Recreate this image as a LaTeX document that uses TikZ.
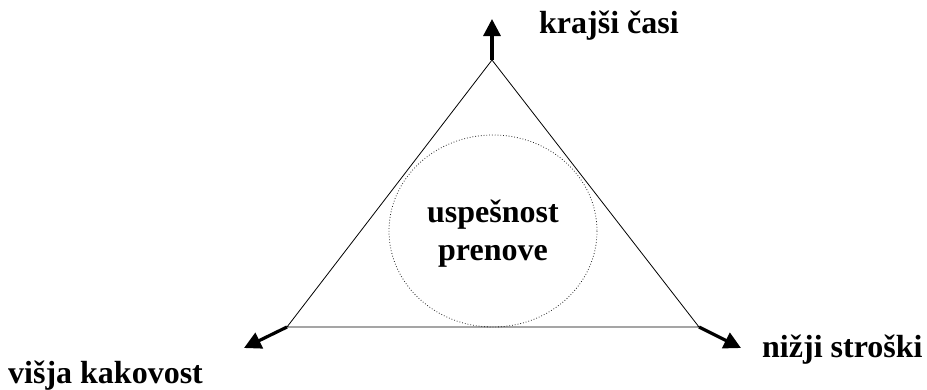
\documentclass[tikz,border=0pt]{standalone}
\usepackage{fontspec}
\setmainfont{Liberation Serif}
\usetikzlibrary{arrows.meta}
\tikzset{
  edge/.style={line width=0.8pt, black},
  goal/.style={line width=3.2pt, -{Triangle[length=17pt,width=17pt]}},
  lbl/.style={font=\bfseries\fontsize{32}{38}\selectfont, inner sep=0pt, anchor=base west},
  ring/.style={draw=black!85, line width=0.8pt, dotted}
}
\begin{document}
\begin{tikzpicture}[x=1pt,y=-1pt]
\useasboundingbox (0,0) rectangle (927,389);
\coordinate (top) at (492,60);
\coordinate (left) at (287,327);
\coordinate (right) at (699,327);
\coordinate (ttip) at (492,19);
\coordinate (ltip) at (244,348);
\coordinate (rtip) at (741,348);
\draw[edge] (top) -- (right) -- (left) -- cycle;
\draw[ring] (493,231) ellipse [x radius=104, y radius=96];
\node[lbl, anchor=base, align=center] (center) at (493,260) {uspešnost\\prenove};
\draw[goal] (top) -- (ttip);
\draw[goal] (left) -- (ltip);
\draw[goal] (right) -- (rtip);
\node[lbl] (kt) at (539,33) {krajši časi};
\node[lbl] (kk) at (8,383) {višja kakovost};
\node[lbl] (ks) at (762,357) {nižji stroški};
\end{tikzpicture}
\end{document}
